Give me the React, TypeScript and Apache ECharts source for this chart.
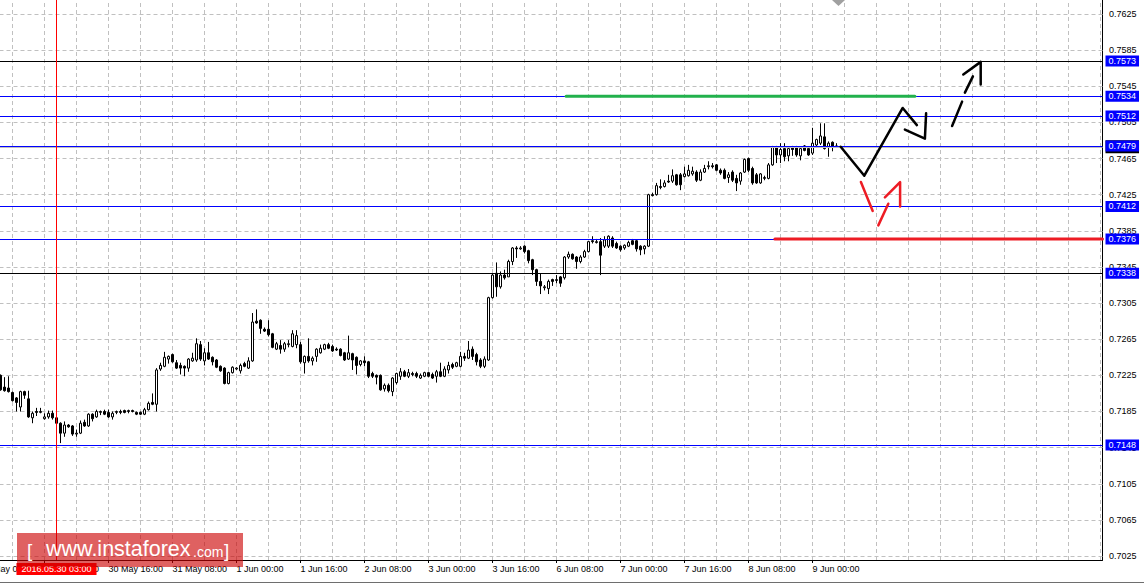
import React, { useEffect, useRef } from 'react';
import * as echarts from 'echarts';

// ---- time slots (H1 candles, weekends skipped) ----
const tradingDays = ['2016.05.27', '2016.05.30', '2016.05.31', '2016.06.01', '2016.06.02', '2016.06.03',
  '2016.06.06', '2016.06.07', '2016.06.08', '2016.06.09', '2016.06.10', '2016.06.13', '2016.06.14'];
const firstHour = 8;
const slotCount = 281;
const leadingEmpty = 5;
const monthNames: Record<string, string> = { '05': 'May', '06': 'Jun' };

// ---- candles: 2016.05.27 13:00 ... 2016.06.09 06:00 ----
const open = [
  0.7225, 0.7212, 0.7211, 0.7206, 0.7200, 0.7190, 0.7207, 0.7199, 0.7178, 0.7185,
  0.7184, 0.7177, 0.7179, 0.7183, 0.7178, 0.7172, 0.7161, 0.7170, 0.7169, 0.7160,
  0.7161, 0.7173, 0.7169, 0.7182, 0.7179, 0.7184, 0.7185, 0.7184, 0.7179, 0.7184,
  0.7185, 0.7186, 0.7185, 0.7186, 0.7184, 0.7184, 0.7182, 0.7187, 0.7195, 0.7193,
  0.7232, 0.7235, 0.7243, 0.7248, 0.7239, 0.7236, 0.7235, 0.7233, 0.7241, 0.7242,
  0.7259, 0.7241, 0.7250, 0.7245, 0.7242, 0.7235, 0.7233, 0.7216, 0.7228, 0.7232,
  0.7230, 0.7238, 0.7233, 0.7241, 0.7285, 0.7286, 0.7276, 0.7276, 0.7271, 0.7254,
  0.7258, 0.7254, 0.7259, 0.7257, 0.7259, 0.7259, 0.7239, 0.7246, 0.7241, 0.7246,
  0.7250, 0.7254, 0.7259, 0.7257, 0.7254, 0.7254, 0.7250, 0.7243, 0.7249, 0.7245,
  0.7237, 0.7241, 0.7240, 0.7227, 0.7225, 0.7225, 0.7210, 0.7214, 0.7207, 0.7217,
  0.7224, 0.7229, 0.7224, 0.7227, 0.7227, 0.7222, 0.7224, 0.7228, 0.7226, 0.7224,
  0.7229, 0.7224, 0.7231, 0.7237, 0.7235, 0.7235, 0.7246, 0.7244, 0.7254, 0.7248,
  0.7242, 0.7235, 0.7242, 0.7311, 0.7338, 0.7323, 0.7336, 0.7334, 0.7351, 0.7366,
  0.7365, 0.7368, 0.7363, 0.7353, 0.7342, 0.7329, 0.7322, 0.7321, 0.7331, 0.7330,
  0.7334, 0.7333, 0.7356, 0.7359, 0.7356, 0.7351, 0.7356, 0.7362, 0.7374, 0.7372,
  0.7373, 0.7368, 0.7368, 0.7377, 0.7371, 0.7368, 0.7366, 0.7368, 0.7374, 0.7374,
  0.7368, 0.7365, 0.7368, 0.7425, 0.7425, 0.7434, 0.7434, 0.7440, 0.7440, 0.7447,
  0.7447, 0.7445, 0.7446, 0.7448, 0.7450, 0.7441, 0.7450, 0.7456, 0.7457, 0.7458,
  0.7452, 0.7452, 0.7444, 0.7450, 0.7443, 0.7440, 0.7450, 0.7465, 0.7454, 0.7447,
  0.7438, 0.7443, 0.7443, 0.7458, 0.7478, 0.7469, 0.7476, 0.7468, 0.7478, 0.7478,
  0.7468, 0.7479, 0.7476, 0.7471, 0.7480, 0.7482, 0.7489, 0.7478, 0.7483, 0.7479,
];
const close = [
  0.7209, 0.7208, 0.7207, 0.7197, 0.7195, 0.7207, 0.7203, 0.7179, 0.7183, 0.7184,
  0.7185, 0.7179, 0.7183, 0.7178, 0.7172, 0.7161, 0.7170, 0.7168, 0.7160, 0.7161,
  0.7172, 0.7169, 0.7182, 0.7177, 0.7185, 0.7185, 0.7182, 0.7179, 0.7183, 0.7185,
  0.7184, 0.7184, 0.7186, 0.7185, 0.7182, 0.7182, 0.7187, 0.7194, 0.7193, 0.7231,
  0.7236, 0.7245, 0.7246, 0.7240, 0.7233, 0.7233, 0.7233, 0.7243, 0.7244, 0.7260,
  0.7243, 0.7250, 0.7243, 0.7240, 0.7234, 0.7230, 0.7216, 0.7228, 0.7234, 0.7233,
  0.7236, 0.7235, 0.7241, 0.7284, 0.7283, 0.7277, 0.7274, 0.7270, 0.7256, 0.7260,
  0.7254, 0.7260, 0.7260, 0.7271, 0.7269, 0.7240, 0.7246, 0.7241, 0.7244, 0.7254,
  0.7255, 0.7259, 0.7255, 0.7252, 0.7253, 0.7247, 0.7242, 0.7250, 0.7242, 0.7236,
  0.7241, 0.7239, 0.7224, 0.7224, 0.7223, 0.7209, 0.7214, 0.7208, 0.7222, 0.7227,
  0.7229, 0.7224, 0.7228, 0.7226, 0.7224, 0.7225, 0.7228, 0.7224, 0.7222, 0.7229,
  0.7224, 0.7232, 0.7236, 0.7234, 0.7239, 0.7246, 0.7244, 0.7253, 0.7246, 0.7240,
  0.7235, 0.7243, 0.7311, 0.7336, 0.7323, 0.7336, 0.7333, 0.7351, 0.7366, 0.7365,
  0.7366, 0.7362, 0.7352, 0.7342, 0.7329, 0.7324, 0.7323, 0.7329, 0.7329, 0.7331,
  0.7327, 0.7356, 0.7359, 0.7354, 0.7351, 0.7356, 0.7362, 0.7373, 0.7373, 0.7373,
  0.7358, 0.7375, 0.7379, 0.7368, 0.7366, 0.7364, 0.7369, 0.7372, 0.7370, 0.7365,
  0.7364, 0.7368, 0.7425, 0.7424, 0.7435, 0.7433, 0.7438, 0.7439, 0.7446, 0.7436,
  0.7436, 0.7448, 0.7452, 0.7451, 0.7441, 0.7450, 0.7454, 0.7457, 0.7456, 0.7452,
  0.7449, 0.7443, 0.7447, 0.7441, 0.7438, 0.7449, 0.7464, 0.7452, 0.7438, 0.7438,
  0.7448, 0.7444, 0.7458, 0.7478, 0.7469, 0.7475, 0.7467, 0.7476, 0.7475, 0.7469,
  0.7476, 0.7474, 0.7469, 0.7482, 0.7486, 0.7490, 0.7476, 0.7482, 0.7478, 0.7478,
];
const low = [
  0.7208, 0.7207, 0.7206, 0.7196, 0.7185, 0.7185, 0.7199, 0.7178, 0.7172, 0.7180,
  0.7183, 0.7176, 0.7177, 0.7176, 0.7171, 0.7150, 0.7157, 0.7167, 0.7158, 0.7157,
  0.7160, 0.7168, 0.7168, 0.7174, 0.7178, 0.7181, 0.7181, 0.7178, 0.7176, 0.7182,
  0.7182, 0.7183, 0.7183, 0.7184, 0.7181, 0.7181, 0.7181, 0.7186, 0.7192, 0.7185,
  0.7230, 0.7234, 0.7238, 0.7239, 0.7232, 0.7226, 0.7224, 0.7229, 0.7240, 0.7240,
  0.7241, 0.7236, 0.7242, 0.7236, 0.7233, 0.7229, 0.7215, 0.7215, 0.7227, 0.7231,
  0.7227, 0.7234, 0.7232, 0.7240, 0.7282, 0.7271, 0.7273, 0.7268, 0.7255, 0.7253,
  0.7249, 0.7251, 0.7256, 0.7256, 0.7255, 0.7238, 0.7227, 0.7239, 0.7236, 0.7240,
  0.7249, 0.7253, 0.7254, 0.7251, 0.7252, 0.7246, 0.7241, 0.7242, 0.7231, 0.7226,
  0.7235, 0.7235, 0.7222, 0.7222, 0.7215, 0.7208, 0.7207, 0.7206, 0.7202, 0.7215,
  0.7220, 0.7223, 0.7222, 0.7224, 0.7222, 0.7221, 0.7223, 0.7223, 0.7221, 0.7217,
  0.7223, 0.7223, 0.7227, 0.7232, 0.7234, 0.7234, 0.7241, 0.7243, 0.7242, 0.7236,
  0.7233, 0.7233, 0.7241, 0.7310, 0.7312, 0.7321, 0.7331, 0.7334, 0.7347, 0.7355,
  0.7364, 0.7360, 0.7349, 0.7336, 0.7324, 0.7315, 0.7319, 0.7315, 0.7324, 0.7327,
  0.7323, 0.7331, 0.7354, 0.7353, 0.7343, 0.7349, 0.7355, 0.7361, 0.7371, 0.7371,
  0.7336, 0.7366, 0.7366, 0.7366, 0.7365, 0.7362, 0.7364, 0.7367, 0.7369, 0.7362,
  0.7358, 0.7359, 0.7367, 0.7423, 0.7424, 0.7431, 0.7433, 0.7438, 0.7438, 0.7435,
  0.7430, 0.7444, 0.7445, 0.7446, 0.7439, 0.7440, 0.7449, 0.7453, 0.7454, 0.7451,
  0.7447, 0.7442, 0.7438, 0.7439, 0.7429, 0.7436, 0.7449, 0.7450, 0.7436, 0.7437,
  0.7437, 0.7441, 0.7442, 0.7457, 0.7460, 0.7460, 0.7462, 0.7462, 0.7468, 0.7467,
  0.7463, 0.7473, 0.7468, 0.7469, 0.7478, 0.7480, 0.7475, 0.7467, 0.7473, 0.7477,
];
const high = [
  0.7226, 0.7223, 0.7224, 0.7207, 0.7201, 0.7208, 0.7208, 0.7208, 0.7185, 0.7189,
  0.7189, 0.7183, 0.7186, 0.7186, 0.7180, 0.7173, 0.7174, 0.7171, 0.7170, 0.7165,
  0.7175, 0.7176, 0.7183, 0.7183, 0.7187, 0.7186, 0.7187, 0.7187, 0.7185, 0.7186,
  0.7187, 0.7187, 0.7187, 0.7187, 0.7185, 0.7185, 0.7189, 0.7196, 0.7205, 0.7233,
  0.7239, 0.7251, 0.7247, 0.7249, 0.7242, 0.7239, 0.7236, 0.7244, 0.7250, 0.7266,
  0.7263, 0.7255, 0.7262, 0.7246, 0.7243, 0.7236, 0.7234, 0.7229, 0.7235, 0.7234,
  0.7238, 0.7240, 0.7245, 0.7294, 0.7298, 0.7287, 0.7278, 0.7286, 0.7272, 0.7262,
  0.7264, 0.7262, 0.7264, 0.7275, 0.7275, 0.7262, 0.7247, 0.7266, 0.7246, 0.7255,
  0.7259, 0.7260, 0.7261, 0.7259, 0.7256, 0.7255, 0.7251, 0.7269, 0.7250, 0.7246,
  0.7242, 0.7246, 0.7241, 0.7229, 0.7226, 0.7226, 0.7216, 0.7216, 0.7223, 0.7228,
  0.7233, 0.7231, 0.7232, 0.7229, 0.7229, 0.7227, 0.7229, 0.7229, 0.7228, 0.7231,
  0.7239, 0.7235, 0.7240, 0.7239, 0.7240, 0.7251, 0.7250, 0.7263, 0.7257, 0.7250,
  0.7244, 0.7246, 0.7312, 0.7338, 0.7350, 0.7340, 0.7342, 0.7353, 0.7367, 0.7368,
  0.7368, 0.7369, 0.7364, 0.7354, 0.7343, 0.7338, 0.7325, 0.7331, 0.7332, 0.7336,
  0.7335, 0.7357, 0.7362, 0.7360, 0.7357, 0.7358, 0.7364, 0.7374, 0.7379, 0.7376,
  0.7377, 0.7379, 0.7380, 0.7379, 0.7373, 0.7369, 0.7370, 0.7374, 0.7376, 0.7375,
  0.7369, 0.7369, 0.7426, 0.7427, 0.7438, 0.7442, 0.7441, 0.7447, 0.7453, 0.7448,
  0.7449, 0.7456, 0.7458, 0.7456, 0.7452, 0.7453, 0.7458, 0.7462, 0.7460, 0.7459,
  0.7454, 0.7454, 0.7450, 0.7452, 0.7447, 0.7450, 0.7465, 0.7466, 0.7456, 0.7449,
  0.7449, 0.7446, 0.7460, 0.7479, 0.7479, 0.7482, 0.7482, 0.7478, 0.7479, 0.7479,
  0.7478, 0.7480, 0.7477, 0.7499, 0.7487, 0.7504, 0.7504, 0.7484, 0.7484, 0.7482,
];

// ---- price axis ticks & levels ----
const priceTicks = [0.7625, 0.7585, 0.7545, 0.7505, 0.7465, 0.7425, 0.7385, 0.7345,
  0.7305, 0.7265, 0.7225, 0.7185, 0.7145, 0.7105, 0.7065, 0.7025];
const levelPrices = [0.7573, 0.7534, 0.7512, 0.7479, 0.7412, 0.7376, 0.7338, 0.7148];
const levelColors = ['#000000', '#0000ff', '#0000ff', '#0000ff', '#0000ff', '#0000ff', '#000000', '#0000ff'];
const bidPrice = 0.7478;
const markerTime = '2016.05.30 03:00';

// ---- drawings: [hour index from 30 May 00:00, price] ----
const greenLine = [[130.4, 0.7534], [217.6, 0.7534]];
const redLine = [[182.6, 0.7376], [264.5, 0.7376]];
const blackPath = [[199.05, 0.7478], [204.95, 0.7446], [214.55, 0.7521], [218.1, 0.7502]];
const blackHead = [[215.1, 0.7497], [220.1, 0.7487], [220.4, 0.7515]];
const dashed1 = [[226.9, 0.7501], [229.4, 0.7528]];
const dashed2 = [[230.1, 0.7538], [232.1, 0.7556]];
const dashedHead = [[229.7, 0.7558], [234.05, 0.7572], [234.05, 0.7547]];
const red1 = [[204.1, 0.7439], [207.05, 0.7407]];
const red2 = [[208.45, 0.7391], [210.95, 0.7415]];
const redHead = [[210.1, 0.7422], [213.9, 0.7439], [213.9, 0.7412]];

const FONT = '"Liberation Sans", Arial, sans-serif';

function buildCategories(): string[] {
  const out: string[] = [];
  for (const day of tradingDays) {
    const start = day === tradingDays[0] ? firstHour : 0;
    for (let h = start; h < 24 && out.length < slotCount; h++) {
      out.push(`${day} ${String(h).padStart(2, '0')}:00`);
    }
  }
  return out;
}

export default function App() {
  const ref = useRef<HTMLDivElement>(null);

  useEffect(() => {
    document.body.style.margin = '0';
    if (!ref.current) return;
    const chart = echarts.init(ref.current, null, { renderer: 'svg' });

    const categories = buildCategories();
    const candleData: any[] = [];
    for (let k = 0; k < leadingEmpty; k++) candleData.push(['-', '-', '-', '-']);
    for (let j = 0; j < open.length; j++) candleData.push([open[j], close[j], low[j], high[j]]);
    const lastLabelIndex = leadingEmpty + open.length - 1;
    const gridCats = categories.filter((_, k) => k % 8 === 0);
    const showLabel = (index: number) => index % 16 === 0 && index <= lastLabelIndex;

    const drawing = (data: number[][], color: string, width = 2.5) => ({
      type: 'line', xAxisIndex: 1, yAxisIndex: 0, data, symbol: 'none', silent: true, z: 6,
      lineStyle: { color, width, cap: 'round', join: 'round' }, animation: false,
    });

    const priceLabel = (p: any) => Number(p.value).toFixed(4);

    const option: any = {
      animation: false,
      backgroundColor: '#ffffff',
      grid: { left: -21.5, top: 0, width: 1124, height: 560, containLabel: false, outerBoundsMode: 'none' },
      xAxis: [
        {
          type: 'category', data: categories, boundaryGap: true, position: 'bottom',
          axisLine: { show: true, onZero: false, lineStyle: { color: '#000', width: 1 } },
          axisTick: { show: true, interval: (i: number) => showLabel(i), alignWithLabel: true, length: 3, lineStyle: { color: '#000' } },
          axisLabel: {
            interval: (i: number) => showLabel(i), align: 'left', margin: 4, color: '#000',
            fontSize: 9, fontFamily: FONT, hideOverlap: false,
            formatter: (v: string) => {
              const [d, t] = v.split(' ');
              const parts = d.split('.');
              return `${parseInt(parts[2], 10)} ${monthNames[parts[1]]} ${t}`;
            },
          },
          splitLine: { show: false },
        },
        { type: 'value', min: -16.5, max: 264.5, show: false, position: 'top' },
      ],
      yAxis: {
        type: 'value', position: 'right', min: 0.70206, max: 0.76405, scale: true,
        axisLine: { show: true, onZero: false, lineStyle: { color: '#000', width: 1 } },
        axisTick: { show: false }, axisLabel: { show: false }, splitLine: { show: false },
      },
      series: [
        {
          type: 'line', data: [], silent: true, z: 1,
          markLine: {
            silent: true, symbol: 'none', z: 1, animation: false, precision: 5,
            lineStyle: { color: '#c0c0c0', type: [4, 3], width: 1 },
            emphasis: { disabled: true },
            label: {
              show: true, position: 'end', distance: 6.5, color: '#000', fontSize: 9, fontFamily: FONT,
              formatter: priceLabel,
            },
            data: [
              ...priceTicks.map((v) => ({ yAxis: v })),
              ...gridCats.map((c) => ({ xAxis: c, label: { show: false } })),
            ],
          },
        },
        {
          type: 'candlestick', data: candleData, barWidth: 2, z: 2, silent: true,
          itemStyle: {
            color: '#ffffff', color0: '#000000', borderColor: '#000000', borderColor0: '#000000',
            borderColorDoji: '#000000', borderWidth: 1,
          },
        },
        {
          type: 'line', data: [], silent: true, z: 3,
          markLine: {
            silent: true, symbol: 'none', z: 3, animation: false, precision: 5,
            lineStyle: { color: '#c0c0c0', type: 'solid', width: 1 },
            emphasis: { disabled: true },
            label: {
              show: true, position: 'end', distance: 3, color: '#fff', backgroundColor: '#000',
              padding: [1, 3, 2, 3], lineHeight: 10, fontSize: 9, fontFamily: FONT,
              formatter: priceLabel,
            },
            data: [{ yAxis: bidPrice }],
          },
        },
        {
          type: 'line', data: [], silent: true, z: 4,
          markLine: {
            silent: true, symbol: 'none', z: 4, animation: false, precision: 5,
            emphasis: { disabled: true },
            label: {
              show: true, position: 'end', distance: 3, color: '#fff', backgroundColor: '#0000ff',
              padding: [1, 3, 0, 3], lineHeight: 10, fontSize: 9, fontFamily: FONT,
              formatter: priceLabel,
            },
            data: levelPrices.map((v, k) => ({ yAxis: v, lineStyle: { color: levelColors[k], width: 1, type: 'solid' } })),
          },
        },
        {
          type: 'line', data: [], silent: true, z: 4,
          markLine: {
            silent: true, symbol: 'none', z: 4, animation: false,
            emphasis: { disabled: true },
            lineStyle: { color: '#ff0000', width: 1, type: 'solid' },
            label: {
              show: true, position: 'start', distance: 3, color: '#fff', backgroundColor: '#ff0000',
              padding: [1, 5, 1, 5], lineHeight: 10, fontSize: 9, fontFamily: FONT,
              formatter: () => markerTime,
            },
            data: [{ xAxis: markerTime }],
          },
        },
        drawing(greenLine, '#22b14c', 3),
        drawing(redLine, '#ed1c24', 3),
        drawing(blackPath, '#000000'),
        drawing(blackHead, '#000000'),
        drawing(dashed1, '#000000'),
        drawing(dashed2, '#000000'),
        drawing(dashedHead, '#000000'),
        drawing(red1, '#ed1c24'),
        drawing(red2, '#ed1c24'),
        drawing(redHead, '#ed1c24'),
      ],
      graphic: [
        { type: 'polygon', z: 50, silent: true, shape: { points: [[832, 0], [845, 0], [838.5, 6]] }, style: { fill: '#a0a0a0' } },
        { type: 'line', z: 50, silent: true, shape: { x1: 0, y1: 582.5, x2: 1144, y2: 582.5 }, style: { stroke: '#6e6e6e', lineWidth: 1 } },
        { type: 'rect', z: 100, silent: true, shape: { x: 17, y: 533, width: 226, height: 34 }, style: { fill: 'rgba(204,0,0,0.62)' } },
        { type: 'text', z: 101, silent: true, x: 27, y: 550, style: { text: '[', fill: '#ffffff', font: `19px ${FONT}`, verticalAlign: 'middle' } },
        { type: 'text', z: 101, silent: true, x: 46, y: 549, style: { text: 'www.instaforex', fill: '#ffffff', font: `21.5px ${FONT}`, verticalAlign: 'middle' } },
        { type: 'text', z: 101, silent: true, x: 193, y: 551.5, style: { text: '.com', fill: '#ffffff', font: `14px ${FONT}`, verticalAlign: 'middle' } },
        { type: 'text', z: 101, silent: true, x: 224, y: 550, style: { text: ']', fill: '#ffffff', font: `19px ${FONT}`, verticalAlign: 'middle' } },
      ],
    };

    chart.setOption(option);
    return () => chart.dispose();
  }, []);

  return <div ref={ref} style={{ width: 1144, height: 584 }} />;
}
